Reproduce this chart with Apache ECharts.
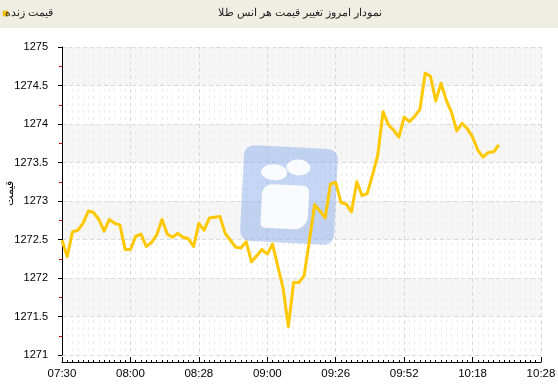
<!DOCTYPE html>
<html>
<head>
<meta charset="utf-8">
<script src="https://cdn.jsdelivr.net/npm/echarts@6/dist/echarts.min.js"></script>
<style>html,body{margin:0;padding:0;background:#fff}#c{width:558px;height:392px}</style>
</head>
<body>
<div id="c"></div>
<script>
var titleText = 'نمودار امروز تغییر قیمت هر انس طلا';
var legendName = 'قیمت زنده';
var yAxisName = 'قیمت';
var xTickLabels = ['07:30', '08:00', '08:28', '09:00', '09:26', '09:52', '10:18', '10:28'];
var pointsPerTick = 13;
var yTicks = { min: 1271, max: 1275, step: 0.5 };
var prices = [
  1272.49, 1272.28, 1272.60, 1272.62, 1272.71, 1272.87, 1272.85, 1272.76, 1272.61, 1272.76,
  1272.71, 1272.69, 1272.37, 1272.37, 1272.54, 1272.57, 1272.41, 1272.46, 1272.56, 1272.76,
  1272.57, 1272.53, 1272.58, 1272.53, 1272.51, 1272.41, 1272.71, 1272.62, 1272.78, 1272.79,
  1272.80, 1272.58, 1272.49, 1272.40, 1272.39, 1272.47, 1272.21, 1272.29, 1272.37, 1272.31,
  1272.44, 1272.15, 1271.87, 1271.37, 1271.94, 1271.94, 1272.03, 1272.49, 1272.95, 1272.87,
  1272.78, 1273.22, 1273.24, 1272.98, 1272.96, 1272.86, 1273.25, 1273.07, 1273.10, 1273.34,
  1273.60, 1274.16, 1273.99, 1273.92, 1273.83, 1274.09, 1274.03, 1274.10, 1274.19, 1274.66,
  1274.62, 1274.30, 1274.53, 1274.31, 1274.15, 1273.91, 1274.01, 1273.94, 1273.83, 1273.66,
  1273.57, 1273.63, 1273.64, 1273.73
];

var seriesData = prices.map(function (v, i) { return [i, v]; });
var xMax = pointsPerTick * (xTickLabels.length - 1);

var chart = echarts.init(document.getElementById('c'), null, { renderer: 'canvas' });
var font = 'Liberation Sans';
var wmRot = -0.05;
chart.setOption({
  animation: false,
  backgroundColor: '#ffffff',
  textStyle: { fontFamily: font },
  grid: { left: 62, right: 17, top: 47, bottom: 37, containLabel: false, outerBoundsMode: 'none' },
  graphic: [
    { type: 'rect', x: 0, y: 0, z: -10, shape: { width: 558, height: 28 }, style: { fill: '#eeeee3' } },
    { type: 'rect', x: 3, y: 11, z: 10, shape: { width: 5, height: 5 }, style: { fill: '#ffcc00', stroke: '#d9a400', lineWidth: 0.5 } },
    { type: 'text', x: 53, y: 13, z: 10, style: { text: legendName, fill: '#222', textAlign: 'right', textVerticalAlign: 'middle', font: '11px "Noto Sans", sans-serif' } },
    { type: 'text', x: 300, y: 13, z: 10, style: { text: titleText, fill: '#222', textAlign: 'center', textVerticalAlign: 'middle', font: '11px "Noto Sans", sans-serif' } },
    { type: 'text', x: 10, y: 193, rotation: Math.PI / 2, z: 10, style: { text: yAxisName, fill: '#000', textAlign: 'center', textVerticalAlign: 'middle', font: '11px "Noto Sans", sans-serif' } },
    { type: 'rect', x: 289, y: 195, rotation: wmRot, z: 3, shape: { x: -47, y: -48, width: 94, height: 96, r: 10 }, style: { fill: 'rgba(128,166,233,0.45)' } },
    { type: 'ellipse', x: 289, y: 195, rotation: wmRot, z: 3, shape: { cx: -16, cy: -22, rx: 13, ry: 8 }, style: { fill: 'rgba(255,255,255,0.9)' } },
    { type: 'ellipse', x: 289, y: 195, rotation: wmRot, z: 3, shape: { cx: 8, cy: -28, rx: 12, ry: 8 }, style: { fill: 'rgba(255,255,255,0.9)' } },
    { type: 'rect', x: 289, y: 195, rotation: wmRot, z: 3, shape: { x: -27, y: -10, width: 47, height: 44, r: [10, 6, 14, 4] }, style: { fill: 'rgba(255,255,255,0.9)' } }
  ],
  xAxis: {
    type: 'value',
    min: 0, max: xMax, interval: pointsPerTick,
    offset: 7,
    axisLine: { show: true, lineStyle: { color: '#000', width: 1 } },
    axisTick: { show: true, inside: true, length: 5, lineStyle: { color: '#000' } },
    minorTick: { show: true, splitNumber: pointsPerTick, length: 2, lineStyle: { color: '#000' } },
    axisLabel: {
      color: '#000', fontSize: 11.5, fontFamily: font, margin: 6,
      formatter: function (v) { return xTickLabels[Math.round(v / pointsPerTick)]; }
    },
    splitLine: { show: true, lineStyle: { color: '#d9d9d9', type: [4, 3] } },
    minorSplitLine: { show: true, lineStyle: { color: '#ececec', type: [3, 4] } }
  },
  yAxis: {
    type: 'value',
    min: yTicks.min, max: yTicks.max, interval: yTicks.step,
    offset: 10,
    axisLine: { show: true, lineStyle: { color: '#000', width: 1 } },
    axisTick: { show: true, length: 4, lineStyle: { color: '#000' } },
    minorTick: { show: true, splitNumber: 2, length: 3, lineStyle: { color: '#cc0000' } },
    axisLabel: { color: '#000', fontSize: 11, fontFamily: font, margin: 4, formatter: function (v) { return String(v); } },
    splitLine: { show: true, lineStyle: { color: '#d9d9d9', type: [4, 3] } },
    splitArea: { show: true, areaStyle: { color: ['#ffffff', '#f6f6f6'] } }
  },
  series: [{
    name: legendName,
    type: 'line',
    data: seriesData,
    showSymbol: false,
    smooth: false,
    z: 5,
    lineStyle: { color: '#ffc800', width: 3, join: 'round' }
  }]
});
</script>
</body>
</html>
